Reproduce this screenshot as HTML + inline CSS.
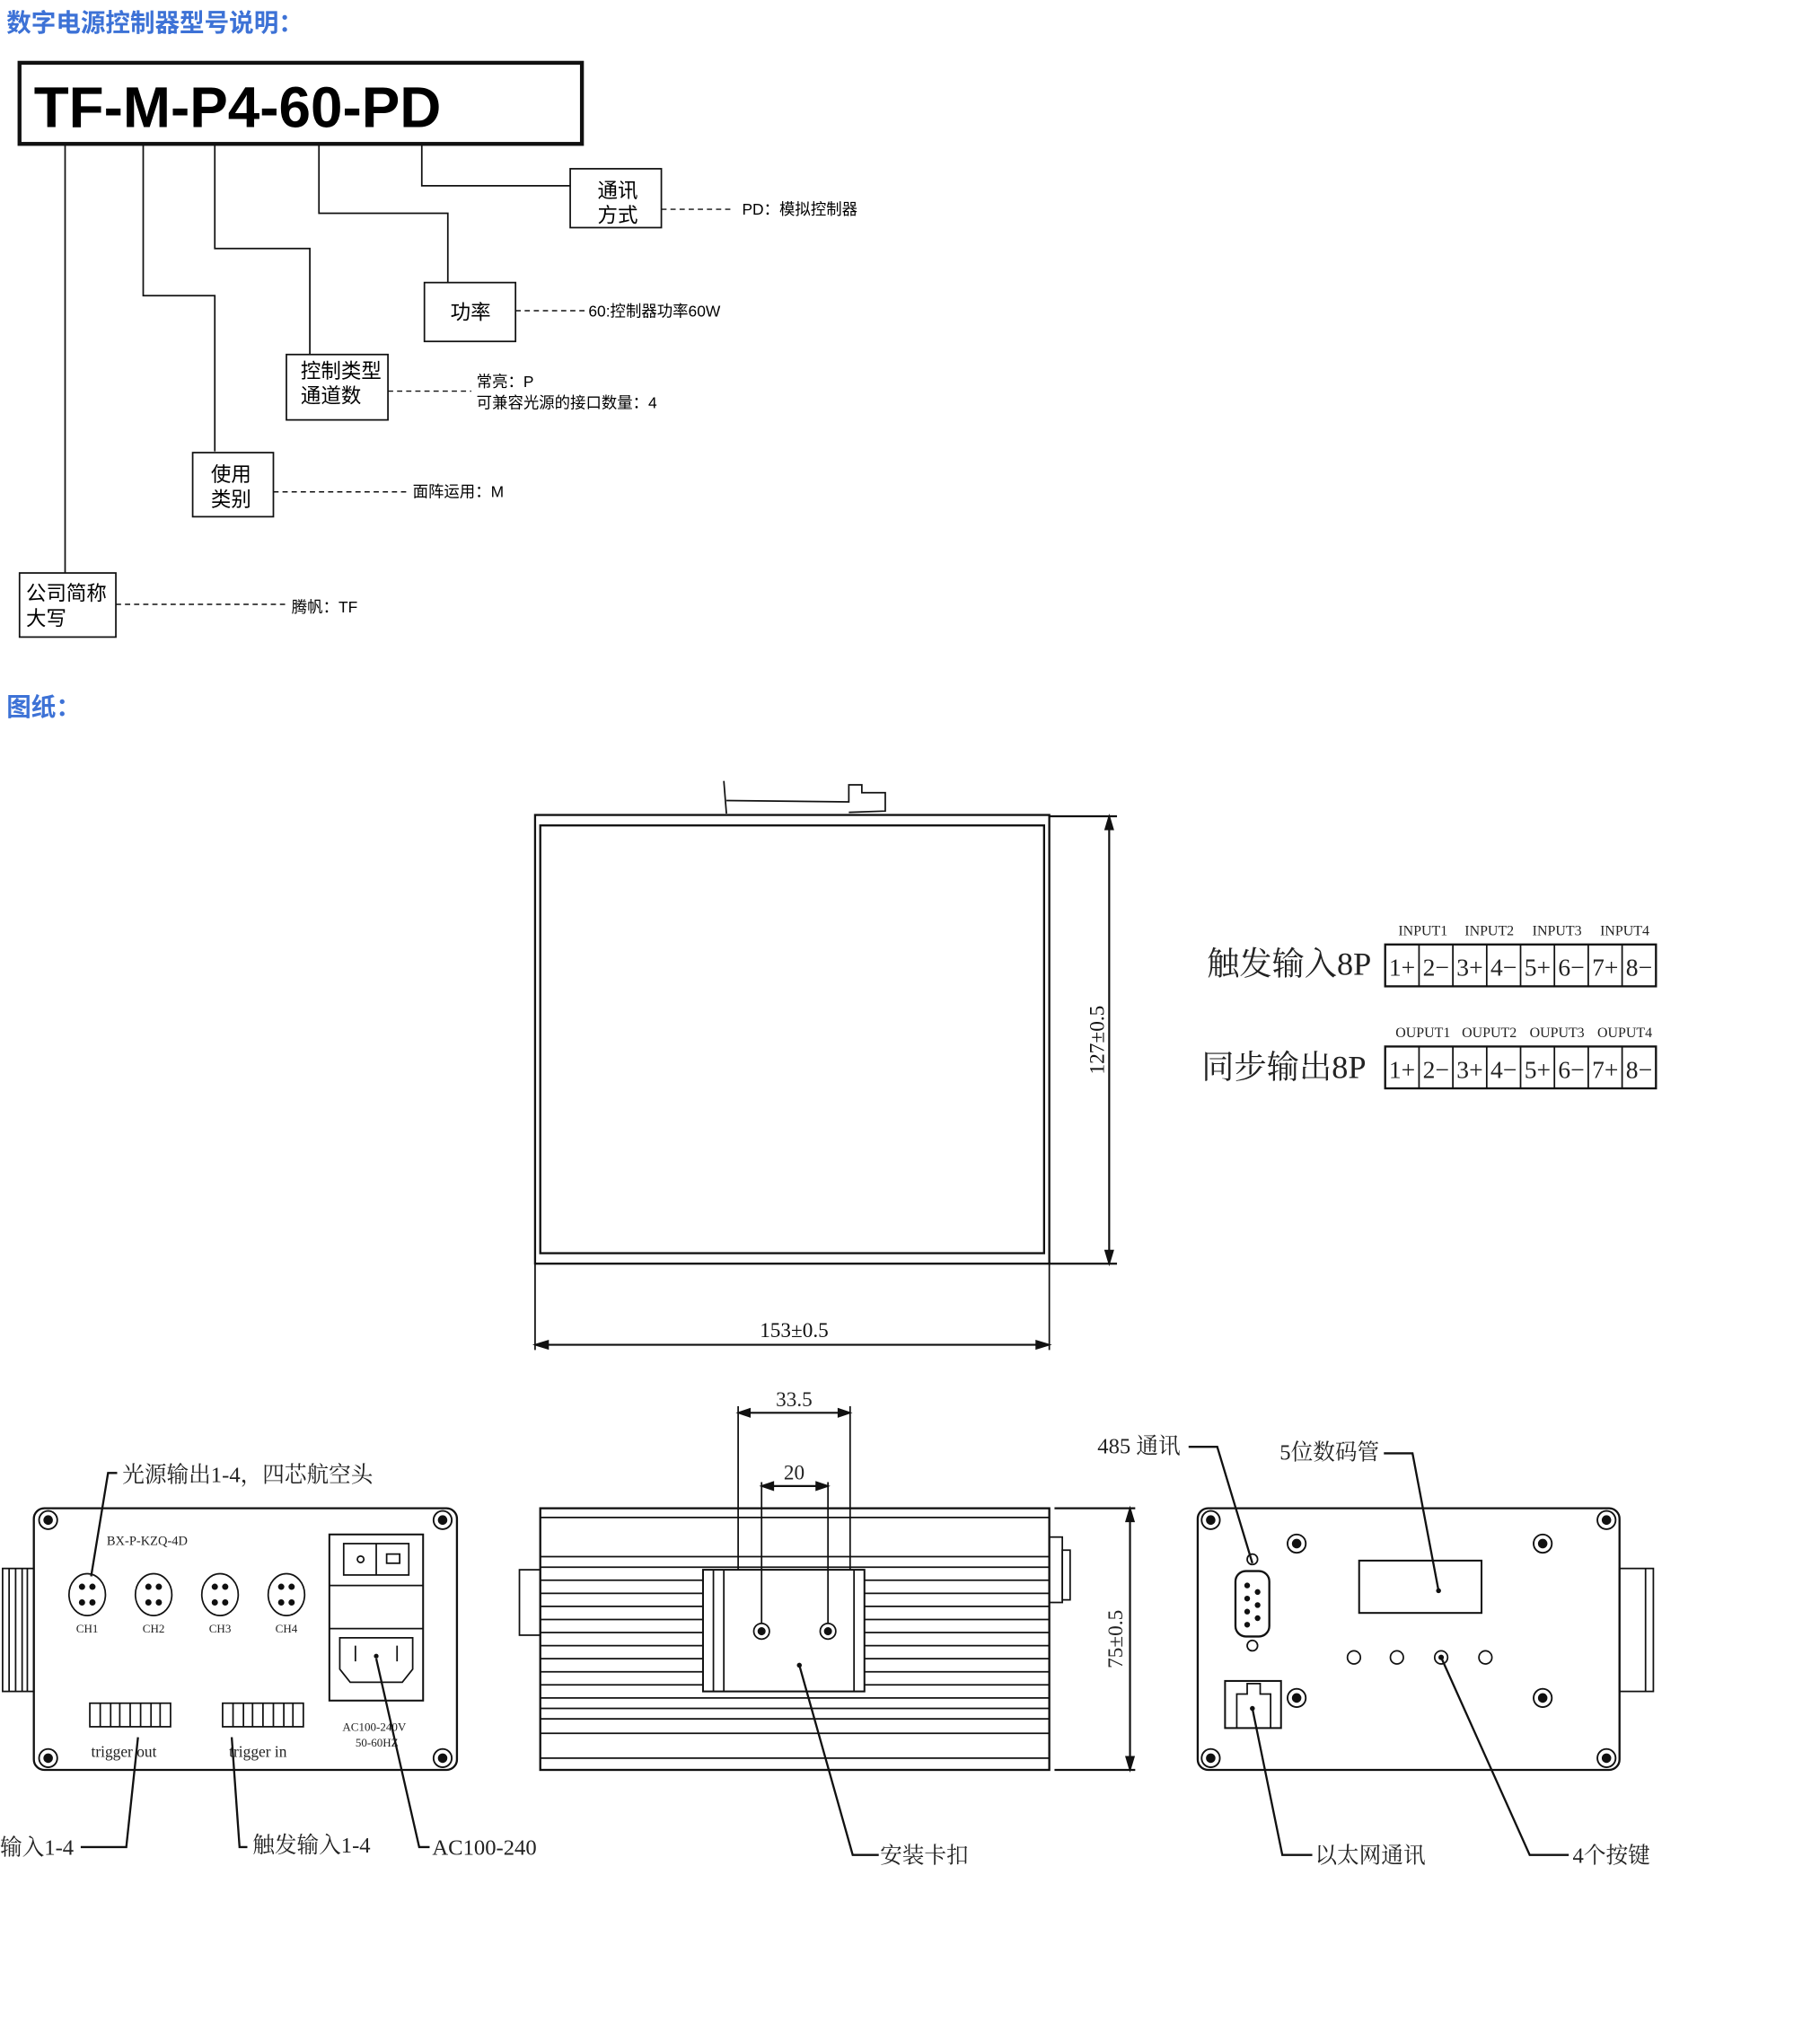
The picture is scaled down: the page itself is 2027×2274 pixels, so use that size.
<!DOCTYPE html>
<html><head><meta charset="utf-8"><style>
html,body{margin:0;padding:0;background:#fff;}
svg{display:block;}
.s{font-family:"Liberation Sans","Noto Sans CJK SC",sans-serif;}
.r{font-family:"Liberation Serif","Noto Serif CJK SC",serif;}
</style></head><body>
<svg width="2027" height="2274" viewBox="0 0 1398 1561" preserveAspectRatio="none" xmlns="http://www.w3.org/2000/svg" fill="none" stroke="#111" stroke-width="1.2">
<!-- titles -->
<text class="s" x="5" y="24" font-size="19" font-weight="bold" fill="#3d72d6" stroke="none">数字电源控制器型号说明：</text>
<text class="s" x="5" y="547" font-size="19" font-weight="bold" fill="#3d72d6" stroke="none">图纸：</text>
<!-- model box -->
<rect x="15" y="48" width="432" height="62" stroke-width="3"/>
<text class="s" x="26" y="97" font-size="44" font-weight="bold" fill="#000" stroke="none">TF-M-P4-60-PD</text>
<!-- tree lines -->
<polyline points="50,110 50,438"/>
<polyline points="110,110 110,226 165,226 165,345"/>
<polyline points="165,110 165,190 238,190 238,271"/>
<polyline points="245,110 245,163 344,163 344,216"/>
<polyline points="324,110 324,142 438,142"/>
<rect x="438" y="129" width="70" height="45"/>
<rect x="326" y="216" width="70" height="45"/>
<rect x="220" y="271" width="78" height="50"/>
<rect x="148" y="346" width="62" height="49"/>
<rect x="15" y="438" width="74" height="49"/>
<g class="s" font-size="15.5" fill="#000" stroke="none">
<text x="459" y="151">通讯</text><text x="459" y="170">方式</text>
<text x="346" y="244">功率</text>
<text x="231" y="289">控制类型</text><text x="231" y="308">通道数</text>
<text x="162" y="368">使用</text><text x="162" y="387">类别</text>
<text x="20" y="459">公司简称</text><text x="20" y="478">大写</text>
</g>
<g stroke-dasharray="4,3" stroke-width="1">
<line x1="508" y1="160" x2="562" y2="160"/>
<line x1="396" y1="237.5" x2="450" y2="237.5"/>
<line x1="298" y1="299" x2="362" y2="299"/>
<line x1="210" y1="376" x2="312" y2="376"/>
<line x1="89" y1="462" x2="220" y2="462"/>
</g>
<g class="s" font-size="12" fill="#000" stroke="none">
<text x="570" y="164">PD：模拟控制器</text>
<text x="452" y="242">60:控制器功率60W</text>
<text x="366" y="296">常亮：P</text>
<text x="366" y="312">可兼容光源的接口数量：4</text>
<text x="317" y="380">面阵运用：M</text>
<text x="224" y="468">腾帆：TF</text>
</g>

<!-- top view -->
<rect x="411" y="623" width="395" height="343" stroke-width="1.6"/>
<rect x="415" y="631" width="387" height="327" stroke-width="1.6"/>
<path d="M556,597 L558,622 M558,612 L652,613 L652,600 L662,600 L662,606 L680,606 L680,620 L652,621" />
<line x1="806" y1="624" x2="858" y2="624" stroke-width="1.6"/>
<line x1="806" y1="966" x2="858" y2="966" stroke-width="1.6"/>
<line x1="852" y1="627" x2="852" y2="963" stroke-width="1.5"/>
<path d="M852,624 l-3,10 h6z M852,966 l-3,-10 h6z" fill="#111"/>
<text class="r" transform="translate(848,795) rotate(-90)" text-anchor="middle" font-size="16" fill="#111" stroke="none">127±0.5</text>
<line x1="411" y1="966" x2="411" y2="1032"/>
<line x1="806" y1="966" x2="806" y2="1032"/>
<line x1="414" y1="1028" x2="803" y2="1028" stroke-width="1.5"/>
<path d="M411,1028 l10,-3 v6z M806,1028 l-10,-3 v6z" fill="#111"/>
<text class="r" x="610" y="1022" text-anchor="middle" font-size="16" fill="#111" stroke="none">153±0.5</text>

<!-- 8P tables -->
<g class="r" fill="#222" stroke="none">
<text x="927" y="745" font-size="25">触发输入8P</text>
<text x="923" y="824" font-size="25">同步输出8P</text>
<g font-size="11" text-anchor="middle">
<text x="1093" y="715">INPUT1</text><text x="1144" y="715">INPUT2</text><text x="1196" y="715">INPUT3</text><text x="1248" y="715">INPUT4</text>
<text x="1093" y="793">OUPUT1</text><text x="1144" y="793">OUPUT2</text><text x="1196" y="793">OUPUT3</text><text x="1248" y="793">OUPUT4</text>
</g>
<g font-size="19" text-anchor="middle">
<text x="1077" y="746">1+</text><text x="1103" y="746">2−</text><text x="1129" y="746">3+</text><text x="1155" y="746">4−</text><text x="1181" y="746">5+</text><text x="1207" y="746">6−</text><text x="1233" y="746">7+</text><text x="1259" y="746">8−</text>
<text x="1077" y="824">1+</text><text x="1103" y="824">2−</text><text x="1129" y="824">3+</text><text x="1155" y="824">4−</text><text x="1181" y="824">5+</text><text x="1207" y="824">6−</text><text x="1233" y="824">7+</text><text x="1259" y="824">8−</text>
</g></g>
<rect x="1064" y="722" width="208" height="32" stroke-width="1.6"/>
<rect x="1064" y="800" width="208" height="32" stroke-width="1.6"/>
<path d="M1090,722v32M1116,722v32M1142,722v32M1168,722v32M1194,722v32M1220,722v32M1246,722v32 M1090,800v32M1116,800v32M1142,800v32M1168,800v32M1194,800v32M1220,800v32M1246,800v32"/>

<!-- left panel -->
<rect x="26" y="1153" width="325" height="200" rx="8" stroke-width="1.6"/>
<rect x="2" y="1199" width="24" height="94"/>
<path d="M7,1199v94M12,1199v94M17,1199v94M21,1199v94"/>
<g stroke-width="1.3">
<circle cx="37" cy="1162" r="7"/><circle cx="37" cy="1162" r="3" fill="#111"/>
<circle cx="340" cy="1162" r="7"/><circle cx="340" cy="1162" r="3" fill="#111"/>
<circle cx="37" cy="1344" r="7"/><circle cx="37" cy="1344" r="3" fill="#111"/>
<circle cx="340" cy="1344" r="7"/><circle cx="340" cy="1344" r="3" fill="#111"/>
</g>
<text class="r" x="82" y="1181" font-size="10" fill="#222" stroke="none">BX-P-KZQ-4D</text>
<g fill="#111">
<ellipse cx="67" cy="1219" rx="14" ry="16" fill="none"/><circle cx="63" cy="1213" r="1.8"/><circle cx="71" cy="1213" r="1.8"/><circle cx="63" cy="1225" r="1.8"/><circle cx="71" cy="1225" r="1.8"/>
<ellipse cx="118" cy="1219" rx="14" ry="16" fill="none"/><circle cx="114" cy="1213" r="1.8"/><circle cx="122" cy="1213" r="1.8"/><circle cx="114" cy="1225" r="1.8"/><circle cx="122" cy="1225" r="1.8"/>
<ellipse cx="169" cy="1219" rx="14" ry="16" fill="none"/><circle cx="165" cy="1213" r="1.8"/><circle cx="173" cy="1213" r="1.8"/><circle cx="165" cy="1225" r="1.8"/><circle cx="173" cy="1225" r="1.8"/>
<ellipse cx="220" cy="1219" rx="14" ry="16" fill="none"/><circle cx="216" cy="1213" r="1.8"/><circle cx="224" cy="1213" r="1.8"/><circle cx="216" cy="1225" r="1.8"/><circle cx="224" cy="1225" r="1.8"/>
</g>
<g class="r" font-size="9" fill="#222" stroke="none" text-anchor="middle">
<text x="67" y="1248">CH1</text><text x="118" y="1248">CH2</text><text x="169" y="1248">CH3</text><text x="220" y="1248">CH4</text>
</g>
<rect x="253" y="1173" width="72" height="127" stroke-width="1.4"/>
<line x1="253" y1="1212" x2="325" y2="1212"/><line x1="253" y1="1245" x2="325" y2="1245"/>
<rect x="264" y="1180" width="50" height="24"/><line x1="289" y1="1180" x2="289" y2="1204"/>
<circle cx="277" cy="1192" r="2.5"/><rect x="297" y="1188" width="10" height="7"/>
<path d="M261,1252 h56 v24 l-8,10 h-40 l-8,-10z"/>
<path d="M273,1258v12M305,1258v12"/><circle cx="289" cy="1266" r="1.2" fill="#111"/>
<rect x="69" y="1302" width="62" height="18"/><rect x="171" y="1302" width="62" height="18"/>
<path d="M77,1302v18M85,1302v18M92,1302v18M100,1302v18M108,1302v18M116,1302v18M123,1302v18 M179,1302v18M187,1302v18M194,1302v18M202,1302v18M210,1302v18M218,1302v18M225,1302v18"/>
<g class="r" fill="#222" stroke="none">
<text x="70" y="1343" font-size="12">trigger out</text>
<text x="176" y="1343" font-size="12">trigger in</text>
<text x="263" y="1323" font-size="9">AC100-240V</text>
<text x="273" y="1335" font-size="9">50-60HZ</text>
</g>
<g stroke-width="1.6">
<polyline points="90,1126 83,1126 70,1205"/>
<polyline points="62,1412 97,1412 106,1328"/>
<polyline points="190,1412 184,1412 178,1328"/>
<polyline points="330,1412 322,1412 289,1268"/>
</g>
<g class="r" font-size="17" fill="#222" stroke="none">
<text x="94" y="1133">光源输出1-4，四芯航空头</text>
<text x="0" y="1418">输入1-4</text>
<text x="194" y="1416">触发输入1-4</text>
<text x="332" y="1418">AC100-240</text>
</g>

<!-- side view -->
<rect x="415" y="1153" width="391" height="200" stroke-width="1.6"/>
<rect x="399" y="1200" width="16" height="50"/>
<rect x="806" y="1175" width="10" height="50"/><rect x="816" y="1185" width="6" height="38"/>
<path d="M415,1160h391M415,1190h391M415,1198h391M415,1325h391M415,1344h391
M415,1208h125M664,1208h142 M415,1218h125M664,1218h142 M415,1228h125M664,1228h142 M415,1238h125M664,1238h142 M415,1248h125M664,1248h142 M415,1258h125M664,1258h142 M415,1268h125M664,1268h142 M415,1278h125M664,1278h142 M415,1288h125M664,1288h142
M415,1298h391 M415,1306h391 M415,1314h391"/>
<rect x="540" y="1200" width="124" height="93" stroke-width="1.4" fill="#fff"/>
<path d="M548,1200v93M556,1200v93M656,1200v93"/>
<circle cx="585" cy="1247" r="6"/><circle cx="585" cy="1247" r="2.5" fill="#111"/>
<circle cx="636" cy="1247" r="6"/><circle cx="636" cy="1247" r="2.5" fill="#111"/>
<circle cx="614" cy="1273" r="1.3" fill="#111"/>
<path d="M567,1075v125M653,1075v125M585,1133v108M636,1133v108"/>
<line x1="570" y1="1080" x2="650" y2="1080" stroke-width="1.5"/>
<path d="M567,1080 l9,-3 v6z M653,1080 l-9,-3 v6z" fill="#111"/>
<line x1="588" y1="1136" x2="633" y2="1136" stroke-width="1.5"/>
<path d="M585,1136 l9,-3 v6z M636,1136 l-9,-3 v6z" fill="#111"/>
<text class="r" x="610" y="1075" text-anchor="middle" font-size="16" fill="#222" stroke="none">33.5</text>
<text class="r" x="610" y="1131" text-anchor="middle" font-size="16" fill="#222" stroke="none">20</text>
<line x1="810" y1="1153" x2="872" y2="1153" stroke-width="1.6"/>
<line x1="810" y1="1353" x2="872" y2="1353" stroke-width="1.6"/>
<line x1="868" y1="1156" x2="868" y2="1350" stroke-width="1.5"/>
<path d="M868,1153 l-3,10 h6z M868,1353 l-3,-10 h6z" fill="#111"/>
<text class="r" transform="translate(862,1253) rotate(-90)" text-anchor="middle" font-size="16" fill="#222" stroke="none">75±0.5</text>
<polyline points="614,1273 655,1418 675,1418" stroke-width="1.6"/>
<text class="r" x="676" y="1424" font-size="17" fill="#222" stroke="none">安装卡扣</text>

<!-- right panel -->
<rect x="920" y="1153" width="324" height="200" rx="8" stroke-width="1.6"/>
<rect x="1244" y="1199" width="26" height="94"/><line x1="1264" y1="1199" x2="1264" y2="1293"/>
<g stroke-width="1.3">
<circle cx="930" cy="1162" r="7"/><circle cx="930" cy="1162" r="3" fill="#111"/>
<circle cx="1234" cy="1162" r="7"/><circle cx="1234" cy="1162" r="3" fill="#111"/>
<circle cx="930" cy="1344" r="7"/><circle cx="930" cy="1344" r="3" fill="#111"/>
<circle cx="1234" cy="1344" r="7"/><circle cx="1234" cy="1344" r="3" fill="#111"/>
<circle cx="996" cy="1180" r="7"/><circle cx="996" cy="1180" r="3" fill="#111"/>
<circle cx="1185" cy="1180" r="7"/><circle cx="1185" cy="1180" r="3" fill="#111"/>
<circle cx="996" cy="1298" r="7"/><circle cx="996" cy="1298" r="3" fill="#111"/>
<circle cx="1185" cy="1298" r="7"/><circle cx="1185" cy="1298" r="3" fill="#111"/>
</g>
<rect x="949" y="1201" width="26" height="50" rx="8" stroke-width="1.6"/>
<circle cx="962" cy="1192" r="4"/><circle cx="962" cy="1258" r="4"/>
<g fill="#111"><circle cx="958" cy="1212" r="1.6"/><circle cx="958" cy="1222" r="1.6"/><circle cx="958" cy="1232" r="1.6"/><circle cx="958" cy="1242" r="1.6"/><circle cx="966" cy="1217" r="1.6"/><circle cx="966" cy="1227" r="1.6"/><circle cx="966" cy="1237" r="1.6"/></g>
<rect x="1044" y="1193" width="94" height="40" stroke-width="1.4"/>
<circle cx="1105" cy="1216" r="1.3" fill="#111"/>
<circle cx="1040" cy="1267" r="5"/><circle cx="1073" cy="1267" r="5"/><circle cx="1107" cy="1267" r="5"/><circle cx="1107" cy="1267" r="1.5" fill="#111"/><circle cx="1141" cy="1267" r="5"/>
<rect x="941" y="1285" width="43" height="36" stroke-width="1.4"/>
<path d="M950,1321 v-26 h8 v-8 h10 v8 h8 v26"/>
<circle cx="962" cy="1306" r="1.3" fill="#111"/>
<g stroke-width="1.6">
<polyline points="913,1106 935,1106 962,1195"/>
<polyline points="1063,1111 1085,1111 1105,1216"/>
<polyline points="962,1306 985,1418 1008,1418"/>
<polyline points="1107,1267 1175,1418 1205,1418"/>
</g>
<g class="r" font-size="17" fill="#222" stroke="none">
<text x="843" y="1111">485 通讯</text>
<text x="983" y="1116">5位数码管</text>
<text x="1010" y="1424">以太网通讯</text>
<text x="1208" y="1424">4个按键</text>
</g>
</svg>
</body></html>
